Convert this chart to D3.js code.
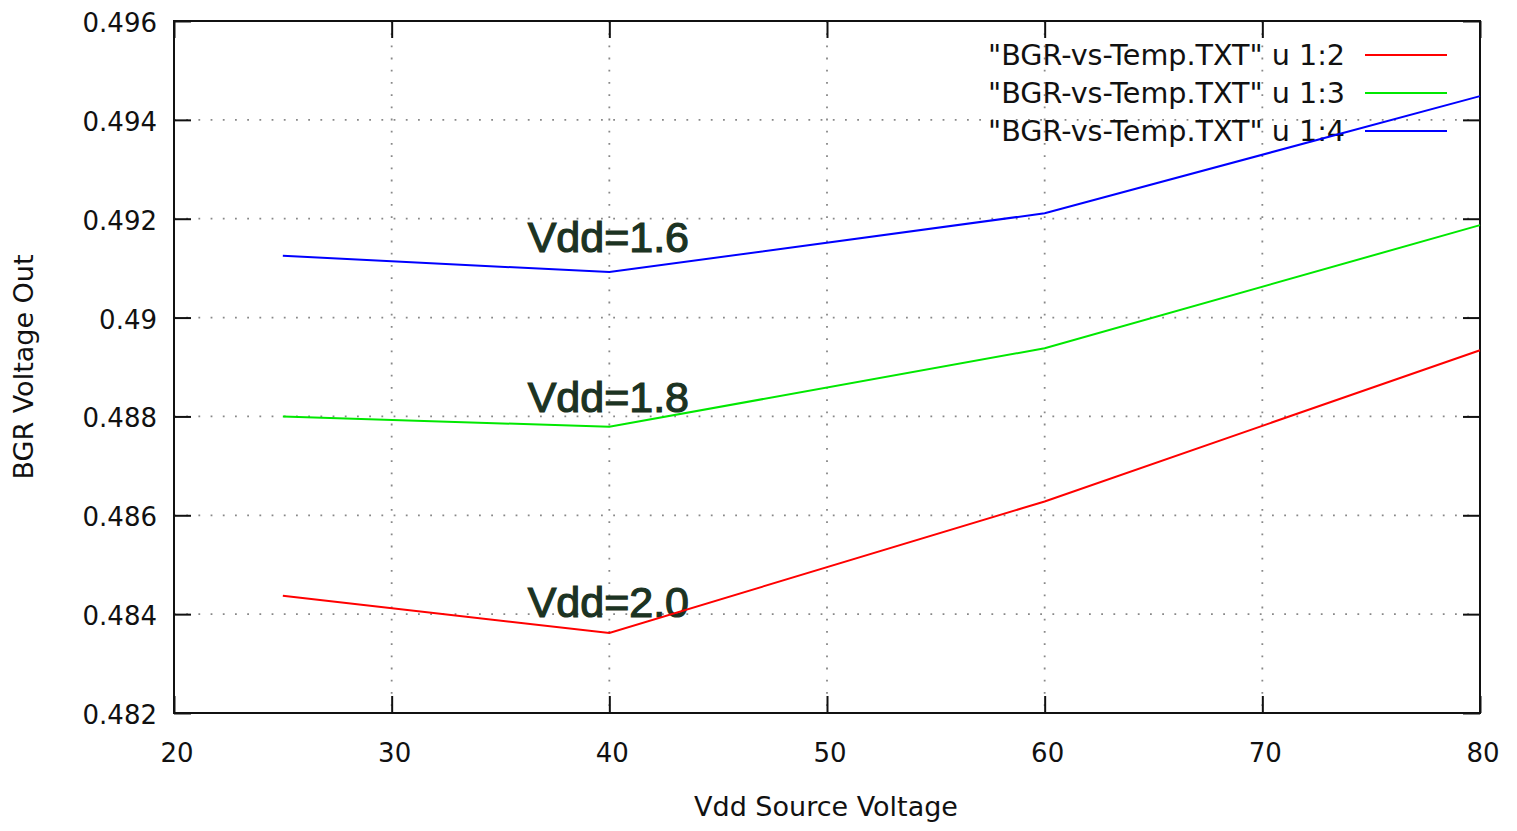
<!DOCTYPE html>
<html>
<head>
<meta charset="utf-8">
<script src="https://cdn.jsdelivr.net/npm/d3@7"></script>
<style>
  html, body { margin: 0; padding: 0; background: #fff; }
  svg { display: block; }
</style>
</head>
<body>
<svg id="chart" width="1517" height="831"></svg>
<script>
// ---- Data ----
const xValues = [25, 40, 60, 80];
const seriesRed   = [0.48437, 0.48362, 0.48628, 0.48934]; // u 1:2
const seriesGreen = [0.48800, 0.48779, 0.48938, 0.49187]; // u 1:3
const seriesBlue  = [0.49125, 0.49092, 0.49211, 0.49448]; // u 1:4
const seriesNames = ['"BGR-vs-Temp.TXT" u 1:2', '"BGR-vs-Temp.TXT" u 1:3', '"BGR-vs-Temp.TXT" u 1:4'];
const xTicks = [20, 30, 40, 50, 60, 70, 80];
const yTicks = [0.482, 0.484, 0.486, 0.488, 0.49, 0.492, 0.494, 0.496];
const yTickLabels = ["0.482", "0.484", "0.486", "0.488", "0.49", "0.492", "0.494", "0.496"];
const annotTexts = ["Vdd=1.6", "Vdd=1.8", "Vdd=2.0"];
const annotX = [40, 40, 40];
const annotY = [0.49133, 0.48809, 0.48394];
const xTitle = "Vdd Source Voltage";
const yTitle = "BGR Voltage Out";

// ---- Layout ----
const svg = d3.select("#chart");
const L = 174, R = 1480, T = 21, B = 713;
const x = d3.scaleLinear().domain([20, 80]).range([L, R]);
const y = d3.scaleLinear().domain([0.482, 0.496]).range([B, T]);
const colors = ["#ff0000", "#00e800", "#0000ff"];
const series = [seriesRed, seriesGreen, seriesBlue];
const font = "'DejaVu Sans', sans-serif";
const tickLen = 17;

// grid
const grid = svg.append("g");
xTicks.slice(1, -1).forEach(t => {
  grid.append("line").attr("x1", x(t)).attr("x2", x(t)).attr("y1", T).attr("y2", B)
    .attr("stroke", "#888").attr("stroke-width", 1.8).attr("stroke-dasharray", "1.8,10.4");
});
yTicks.slice(1, -1).forEach(t => {
  grid.append("line").attr("x1", L).attr("x2", R).attr("y1", y(t)).attr("y2", y(t))
    .attr("stroke", "#888").attr("stroke-width", 1.8).attr("stroke-dasharray", "1.8,10.4");
});

// axes with inward ticks on all sides
const axB = d3.axisBottom(x).tickValues(xTicks).tickSize(-tickLen).tickFormat("");
const axT = d3.axisTop(x).tickValues(xTicks).tickSize(-tickLen).tickFormat("");
const axL = d3.axisLeft(y).tickValues(yTicks).tickSize(-tickLen).tickFormat("");
const axR = d3.axisRight(y).tickValues(yTicks).tickSize(-tickLen).tickFormat("");
[[axB, `translate(0,${B})`], [axT, `translate(0,${T})`], [axL, `translate(${L},0)`], [axR, `translate(${R},0)`]]
  .forEach(([ax, tr]) => {
    const g = svg.append("g").attr("transform", tr).call(ax);
    g.select(".domain").remove();
    g.selectAll("line").attr("stroke", "#111").attr("stroke-width", 2);
  });

// frame
svg.append("rect").attr("x", L).attr("y", T).attr("width", R - L).attr("height", B - T)
  .attr("fill", "none").attr("stroke", "#111").attr("stroke-width", 2);

// tick labels
svg.append("g").selectAll("text").data(xTicks).join("text")
  .attr("x", d => x(d) + 3).attr("y", 762)
  .attr("text-anchor", "middle").attr("font-family", font).attr("font-size", 26)
  .attr("fill", "#111").text(d => d);
svg.append("g").selectAll("text").data(yTicks).join("text")
  .attr("x", 157).attr("y", d => y(d) + 11)
  .attr("text-anchor", "end").attr("font-family", font).attr("font-size", 26)
  .attr("fill", "#111").text((d, i) => yTickLabels[i]);

// axis titles
svg.append("text").attr("x", 826).attr("y", 816).attr("text-anchor", "middle")
  .attr("font-family", font).attr("font-size", 27).attr("fill", "#111").text(xTitle);
svg.append("text").attr("transform", "translate(33,367) rotate(-90)").attr("text-anchor", "middle")
  .attr("font-family", font).attr("font-size", 27).attr("fill", "#111").text(yTitle);

// annotations
svg.append("g").selectAll("text").data(annotTexts).join("text")
  .attr("x", (d, i) => x(annotX[i]) - 1).attr("y", (d, i) => y(annotY[i]))
  .attr("text-anchor", "middle").attr("font-family", "'Liberation Sans', Arial, sans-serif")
  .attr("font-size", 43).attr("fill", "#1c3322").attr("stroke", "#1c3322").attr("stroke-width", 1.2)
  .text(d => d);

// legend
const legendY = [55, 93, 131];
const leg = svg.append("g");
seriesNames.forEach((name, i) => {
  leg.append("text").attr("x", 1345).attr("y", legendY[i] + 10).attr("text-anchor", "end")
    .attr("font-family", font).attr("font-size", 27.5).attr("fill", "#111")
    .attr("textLength", 357).attr("lengthAdjust", "spacingAndGlyphs").text(name);
  leg.append("line").attr("x1", 1365).attr("x2", 1447).attr("y1", legendY[i]).attr("y2", legendY[i])
    .attr("stroke", colors[i]).attr("stroke-width", 2);
});

// lines
const line = d3.line().x((d, i) => x(xValues[i])).y(d => y(d));
series.forEach((s, i) => {
  svg.append("path").datum(s).attr("d", line).attr("fill", "none")
    .attr("stroke", colors[i]).attr("stroke-width", 2);
});
</script>
</body>
</html>
